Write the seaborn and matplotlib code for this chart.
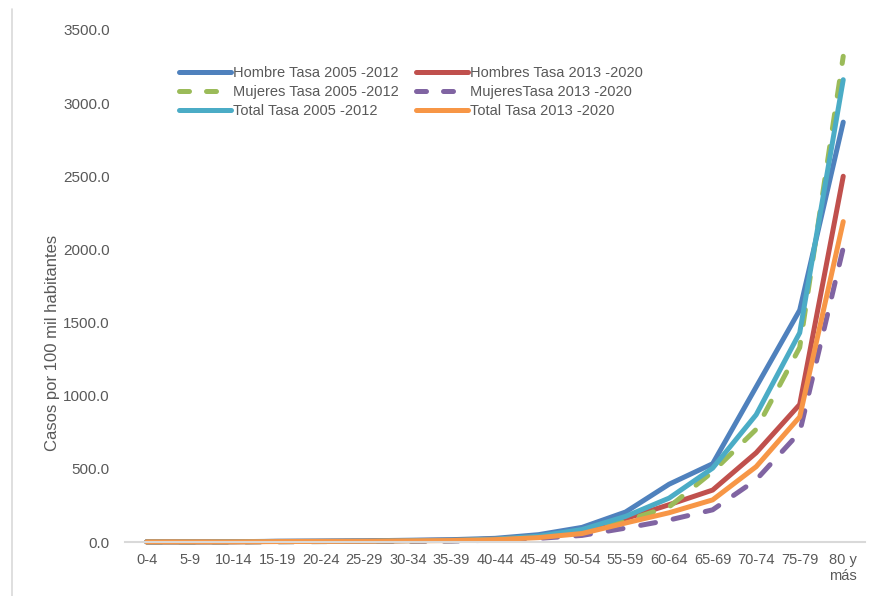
import matplotlib
matplotlib.use("Agg")
import matplotlib.pyplot as plt
from matplotlib.lines import Line2D
import pandas as pd
import seaborn as sns

grupos = ["0-4", "5-9", "10-14", "15-19", "20-24", "25-29", "30-34", "35-39",
          "40-44", "45-49", "50-54", "55-59", "60-64", "65-69", "70-74",
          "75-79", "80 y\nmás"]

hombre_2005 = [1, 1, 2, 5, 6, 8, 12, 16, 25, 50, 100, 205, 395, 535, 1060, 1585, 2870]
hombres_2013 = [1, 1, 2, 4, 5, 6, 10, 12, 20, 38, 70, 160, 255, 355, 610, 940, 2500]
mujeres_2005 = [1, 1, 1, 2, 3, 4, 6, 8, 15, 30, 70, 145, 240, 480, 770, 1330, 3320]
mujeres_2013 = [1, 1, 1, 2, 3, 4, 6, 7, 12, 25, 45, 95, 150, 220, 425, 750, 2010]
total_2005 = [1, 1, 2, 4, 5, 6, 9, 12, 20, 40, 85, 175, 300, 505, 870, 1430, 3160]
total_2013 = [1, 1, 1, 3, 4, 5, 8, 10, 16, 30, 58, 130, 200, 288, 515, 855, 2190]

series = [
    ("Hombre Tasa 2005 -2012", hombre_2005, "#4F81BD", False),
    ("Hombres Tasa 2013 -2020", hombres_2013, "#C0504D", False),
    ("Mujeres Tasa 2005 -2012", mujeres_2005, "#9BBB59", True),
    ("MujeresTasa 2013 -2020", mujeres_2013, "#8064A2", True),
    ("Total Tasa 2005 -2012", total_2005, "#4BACC6", False),
    ("Total Tasa 2013 -2020", total_2013, "#F79646", False),
]

sns.set_style("white")
plt.rcParams["font.family"] = ["Liberation Sans", "DejaVu Sans"]

fig = plt.figure(figsize=(8.69, 5.96), dpi=100)
ax = fig.add_axes([0.1438, 0.0906, 0.8516, 0.8591])

x = list(range(len(grupos)))
handles = {}
for name, vals, color, dashed in series:
    df = pd.DataFrame({"x": x, "y": vals})
    sns.lineplot(data=df, x="x", y="y", ax=ax, color=color, linewidth=3.6,
                 sort=False, legend=False)
    line = ax.lines[-1]
    line.set_solid_capstyle("round")
    line.set_dash_capstyle("round")
    line.set_clip_on(False)
    if dashed:
        line.set_dashes([3.0, 3.6])
    h = Line2D([], [], color=color, linewidth=3.6, solid_capstyle="round",
               dash_capstyle="round")
    if dashed:
        h.set_dashes([2.0, 3.4])
    handles[name] = h

ax.set_xlim(-0.5, 16.5)
ax.set_ylim(0, 3500)
ax.set_xticks(x)
ax.set_xticklabels(grupos, color="#595959", fontsize=10.5)
ax.set_yticks(range(0, 3501, 500))
ax.set_yticklabels([f"{v:.1f}" for v in range(0, 3501, 500)], color="#595959", fontsize=11)
ax.tick_params(axis="y", length=0, pad=11)
ax.tick_params(axis="x", length=0, pad=8)
for s in ["top", "right", "left"]:
    ax.spines[s].set_visible(False)
ax.spines["bottom"].set_color("#D9D9D9")
ax.spines["bottom"].set_linewidth(1.5)
ax.set_xlabel("")
ax.set_ylabel("Casos por 100 mil habitantes", color="#595959", fontsize=12)
ax.yaxis.set_label_coords(-0.088, 0.389)

order = ["Hombre Tasa 2005 -2012", "Mujeres Tasa 2005 -2012", "Total Tasa 2005 -2012",
         "Hombres Tasa 2013 -2020", "MujeresTasa 2013 -2020", "Total Tasa 2013 -2020"]
leg = ax.legend([handles[n] for n in order], order, ncol=2, frameon=False,
                loc="upper left", bbox_to_anchor=(0.055, 0.955), fontsize=10.5,
                handlelength=3.6, handletextpad=0.1, columnspacing=1.2,
                labelspacing=0.35, labelcolor="#595959")

fig.add_artist(Line2D([0.014, 0.014], [0.0, 0.985], color="#D9D9D9", linewidth=1.2,
                      transform=fig.transFigure))

fig.savefig("out.png", dpi=100)
